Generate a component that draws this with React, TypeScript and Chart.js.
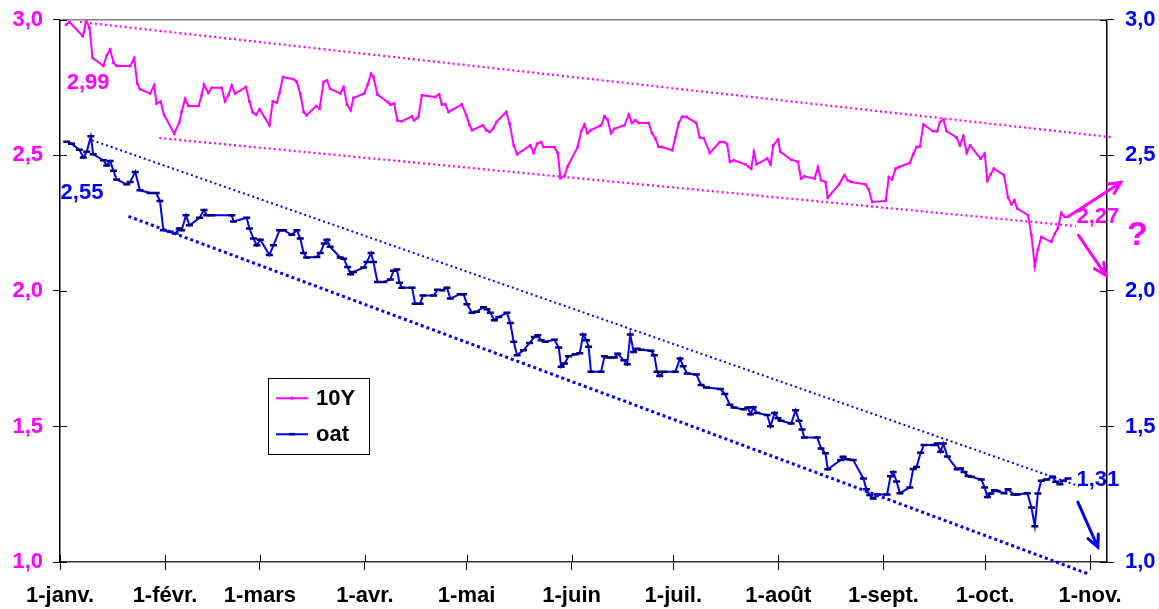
import React, { useEffect, useRef } from "react";
import { Chart, registerables } from "chart.js";

Chart.register(...registerables);

// ---- axis ticks ----
const monthDays = [0, 31, 59, 90, 120, 151, 181, 212, 243, 273, 304];
const monthLabels = ["1-janv.", "1-févr.", "1-mars", "1-avr.", "1-mai", "1-juin", "1-juil.", "1-août", "1-sept.", "1-oct.", "1-nov."];
const yTicks = [1.0, 1.5, 2.0, 2.5, 3.0];

// ---- 10Y series (day of year, yield) ----
const tenYDays = [1.8, 2.8, 6.7, 7.1, 7.7, 8.7, 9.6, 12.8, 13.8, 14.8, 15.8, 16.7, 20.7, 21.9, 22.8, 23.6, 26.6, 27.8, 28.5, 29.7, 30.7, 33.7, 35.2, 35.9, 36.9, 37.9, 40.9, 41.8, 42.5, 43.8, 44.8, 47.7, 48.7, 49.7, 50.7, 51.7, 54.9, 55.9, 56.9, 57.9, 58.9, 61.8, 62.8, 64.0, 64.8, 65.8, 68.9, 69.9, 70.9, 71.9, 72.8, 75.6, 76.6, 77.8, 78.8, 79.7, 82.7, 83.7, 84.7, 85.8, 86.6, 89.8, 90.8, 91.8, 92.5, 93.7, 96.7, 97.5, 98.6, 99.6, 100.9, 103.9, 104.5, 105.8, 106.8, 110.7, 111.9, 112.7, 113.7, 114.7, 118.6, 119.9, 120.9, 121.6, 124.8, 125.8, 126.8, 127.8, 128.8, 131.7, 132.7, 133.9, 134.9, 138.8, 139.8, 140.8, 142.0, 142.7, 145.9, 146.9, 147.7, 148.9, 149.8, 152.8, 153.8, 154.8, 155.7, 156.7, 159.7, 160.7, 161.6, 162.6, 163.6, 166.6, 167.9, 168.8, 169.8, 170.8, 173.8, 174.7, 175.7, 176.7, 177.7, 180.7, 181.6, 182.6, 183.6, 184.9, 187.8, 188.8, 190.0, 191.8, 194.7, 196.1, 196.9, 197.7, 198.9, 202.3, 203.3, 204.0, 204.8, 205.6, 208.7, 209.7, 210.5, 211.9, 212.6, 215.8, 217.8, 218.7, 219.7, 222.7, 223.7, 224.6, 225.9, 226.6, 229.9, 231.5, 232.5, 233.5, 237.7, 238.7, 239.7, 243.7, 244.6, 245.6, 246.6, 247.6, 250.8, 251.8, 252.8, 253.8, 254.8, 257.7, 258.9, 259.7, 260.7, 261.7, 264.6, 265.6, 266.6, 267.6, 268.6, 271.7, 272.9, 273.7, 274.7, 275.6, 278.6, 279.8, 280.8, 281.7, 282.5, 285.7, 286.7, 287.7, 288.6, 289.6, 292.6, 293.6, 294.5, 295.5, 296.5, 297.5];
const tenYValues = [2.982, 2.992, 2.940, 2.955, 3.000, 2.970, 2.859, 2.830, 2.869, 2.891, 2.842, 2.830, 2.830, 2.859, 2.765, 2.744, 2.728, 2.758, 2.691, 2.699, 2.650, 2.580, 2.621, 2.660, 2.709, 2.682, 2.682, 2.722, 2.761, 2.731, 2.749, 2.749, 2.699, 2.722, 2.758, 2.728, 2.752, 2.699, 2.658, 2.650, 2.670, 2.611, 2.699, 2.695, 2.731, 2.789, 2.781, 2.771, 2.728, 2.660, 2.648, 2.682, 2.672, 2.771, 2.777, 2.746, 2.728, 2.752, 2.687, 2.666, 2.712, 2.728, 2.761, 2.801, 2.789, 2.724, 2.697, 2.687, 2.691, 2.629, 2.626, 2.644, 2.629, 2.642, 2.722, 2.715, 2.725, 2.688, 2.688, 2.660, 2.688, 2.648, 2.611, 2.593, 2.611, 2.593, 2.586, 2.598, 2.623, 2.660, 2.617, 2.537, 2.504, 2.537, 2.509, 2.543, 2.549, 2.531, 2.531, 2.509, 2.416, 2.424, 2.459, 2.531, 2.589, 2.614, 2.582, 2.593, 2.611, 2.644, 2.632, 2.582, 2.598, 2.611, 2.651, 2.619, 2.629, 2.619, 2.619, 2.582, 2.563, 2.531, 2.531, 2.519, 2.566, 2.619, 2.642, 2.642, 2.619, 2.566, 2.563, 2.509, 2.549, 2.549, 2.541, 2.476, 2.482, 2.467, 2.457, 2.451, 2.513, 2.467, 2.488, 2.467, 2.537, 2.558, 2.513, 2.484, 2.476, 2.414, 2.423, 2.414, 2.457, 2.408, 2.402, 2.344, 2.393, 2.427, 2.408, 2.402, 2.393, 2.374, 2.328, 2.332, 2.420, 2.411, 2.451, 2.457, 2.472, 2.504, 2.531, 2.533, 2.614, 2.589, 2.589, 2.623, 2.632, 2.589, 2.566, 2.537, 2.570, 2.509, 2.537, 2.488, 2.507, 2.406, 2.430, 2.451, 2.427, 2.344, 2.320, 2.334, 2.304, 2.279, 2.205, 2.091, 2.153, 2.199, 2.181, 2.212, 2.230, 2.288, 2.273, 2.273];

// ---- OAT series (day of year, yield) ----
const oatDays = [2.0, 3.4, 5.7, 6.9, 7.9, 9.1, 9.8, 12.8, 13.8, 14.8, 15.8, 16.7, 19.7, 20.7, 22.2, 23.6, 26.6, 28.4, 29.5, 30.5, 32.5, 34.0, 35.2, 35.9, 37.2, 38.2, 41.2, 42.5, 43.3, 44.8, 50.7, 51.2, 55.1, 55.9, 57.1, 58.1, 59.1, 61.8, 63.0, 64.8, 66.0, 68.4, 69.9, 70.9, 71.9, 72.8, 75.8, 76.8, 78.0, 78.8, 79.7, 82.7, 83.7, 84.9, 85.8, 86.6, 89.6, 90.6, 91.8, 92.5, 93.7, 95.5, 97.5, 98.4, 99.4, 100.2, 100.9, 103.9, 104.8, 106.3, 107.1, 110.3, 111.4, 112.7, 114.2, 115.2, 118.1, 119.1, 120.1, 121.6, 122.9, 125.0, 126.0, 127.0, 128.2, 129.5, 131.9, 132.9, 133.9, 134.9, 136.8, 138.6, 140.0, 141.0, 142.0, 143.2, 145.9, 147.2, 147.9, 148.9, 150.1, 152.1, 153.4, 154.4, 155.4, 156.0, 156.7, 159.7, 160.7, 162.0, 163.6, 164.6, 166.4, 167.4, 168.3, 169.3, 170.3, 171.5, 174.4, 175.4, 176.2, 177.0, 178.2, 181.6, 183.0, 183.9, 185.1, 187.8, 189.2, 190.8, 194.9, 196.2, 197.7, 198.9, 201.8, 203.0, 203.8, 204.6, 205.7, 208.7, 209.7, 210.9, 211.9, 212.8, 215.8, 217.1, 218.1, 219.0, 219.7, 223.5, 224.6, 225.9, 226.6, 230.4, 231.1, 232.3, 234.1, 237.1, 238.0, 239.0, 240.0, 241.2, 244.1, 245.1, 245.9, 246.9, 247.9, 250.8, 251.8, 252.8, 254.0, 255.0, 257.9, 258.9, 259.9, 260.7, 261.9, 264.8, 265.8, 266.8, 268.0, 269.0, 271.9, 272.9, 273.7, 274.7, 275.8, 276.6, 278.6, 279.8, 281.5, 282.5, 285.5, 286.7, 287.7, 288.6, 289.6, 291.2, 292.9, 293.9, 295.1, 296.1, 297.5];
const oatValues = [2.550, 2.543, 2.521, 2.492, 2.513, 2.570, 2.504, 2.482, 2.463, 2.479, 2.443, 2.411, 2.393, 2.402, 2.439, 2.371, 2.361, 2.361, 2.332, 2.224, 2.218, 2.212, 2.230, 2.224, 2.279, 2.242, 2.270, 2.298, 2.279, 2.279, 2.279, 2.256, 2.270, 2.230, 2.193, 2.168, 2.189, 2.132, 2.168, 2.224, 2.224, 2.207, 2.224, 2.193, 2.140, 2.123, 2.125, 2.140, 2.175, 2.189, 2.163, 2.123, 2.119, 2.088, 2.061, 2.070, 2.086, 2.107, 2.140, 2.107, 2.033, 2.033, 2.042, 2.074, 2.079, 2.030, 2.012, 2.012, 1.953, 1.953, 1.983, 1.983, 2.004, 2.002, 2.012, 1.972, 1.988, 1.988, 1.951, 1.919, 1.923, 1.940, 1.932, 1.919, 1.892, 1.904, 1.919, 1.882, 1.812, 1.763, 1.781, 1.808, 1.830, 1.836, 1.818, 1.812, 1.820, 1.791, 1.720, 1.732, 1.759, 1.766, 1.770, 1.839, 1.818, 1.794, 1.702, 1.702, 1.759, 1.754, 1.754, 1.768, 1.744, 1.729, 1.839, 1.775, 1.787, 1.783, 1.779, 1.763, 1.702, 1.686, 1.702, 1.702, 1.751, 1.722, 1.695, 1.692, 1.653, 1.644, 1.638, 1.620, 1.580, 1.570, 1.563, 1.570, 1.545, 1.571, 1.550, 1.542, 1.501, 1.550, 1.530, 1.521, 1.511, 1.560, 1.521, 1.489, 1.459, 1.459, 1.419, 1.401, 1.342, 1.376, 1.388, 1.379, 1.376, 1.308, 1.268, 1.247, 1.234, 1.249, 1.249, 1.316, 1.332, 1.297, 1.254, 1.275, 1.343, 1.350, 1.403, 1.432, 1.432, 1.437, 1.407, 1.437, 1.389, 1.342, 1.345, 1.332, 1.317, 1.314, 1.304, 1.275, 1.240, 1.253, 1.265, 1.262, 1.254, 1.268, 1.249, 1.249, 1.254, 1.201, 1.132, 1.253, 1.300, 1.304, 1.314, 1.296, 1.287, 1.300, 1.308];

// ---- trend channels (start / end) ----
const tenYUpperDays = [5.9, 311.0];
const tenYUpperValues = [2.992, 2.566];
const tenYLowerDays = [29.3, 299.8];
const tenYLowerValues = [2.564, 2.239];
const oatUpperDays = [9.4, 300.7];
const oatUpperValues = [2.556, 1.280];
const oatLowerDays = [20.2, 303.7];
const oatLowerValues = [2.275, 0.955];

// ---- annotations (anchored in data coordinates) ----
const noteTexts = ["2,99", "2,55", "2,27", "?", "1,31"];
const noteDays = [8.3, 6.5, 306.3, 318.0, 306.3];
const noteValues = [2.766, 2.360, 2.272, 2.205, 1.302];
const noteSeries = ["10Y", "oat", "10Y", "10Y", "oat"];

const arrowFromDays = [297.7, 300.6, 300.4];
const arrowFromValues = [2.275, 2.205, 1.221];
const arrowToDays = [313.1, 308.6, 306.3];
const arrowToValues = [2.400, 2.058, 1.055];
const arrowSeries = ["10Y", "10Y", "oat"];

const legendLabels = ["10Y", "oat"];
const legendCornerDays = [61.4, 91.3];
const legendCornerValues = [1.678, 1.398];

// ---- styles ----
const MAGENTA = "#FF00FF";
const BLUE = "#0000FF";
const NAVY = "#000080";
const FONT = "'Liberation Sans', Arial, sans-serif";
const seriesColor: Record<string, string> = { "10Y": MAGENTA, oat: BLUE };

const pts = (xs: number[], ys: number[]) => xs.map((x, i) => ({ x, y: ys[i] }));
const fmt = (v: number) => v.toFixed(1).replace(".", ",");

const decorPlugin = {
  id: "decor",
  afterDatasetsDraw(chart: any) {
    const { ctx, chartArea: a, scales } = chart;
    const xs = scales.x;
    const ys = scales.y;
    ctx.save();
    // top border
    ctx.strokeStyle = "#808080";
    ctx.lineWidth = 1.5;
    ctx.beginPath();
    ctx.moveTo(a.left, a.top);
    ctx.lineTo(a.right, a.top);
    ctx.stroke();
    // inner halves of crossing tick marks
    ctx.strokeStyle = "#000";
    ctx.lineWidth = 1;
    yTicks.forEach((v) => {
      const py = Math.round(ys.getPixelForValue(v)) + 0.5;
      ctx.beginPath();
      ctx.moveTo(a.left, py);
      ctx.lineTo(a.left + 7, py);
      ctx.moveTo(a.right, py);
      ctx.lineTo(a.right - 7, py);
      ctx.stroke();
    });
    monthDays.forEach((d) => {
      const px = Math.round(xs.getPixelForValue(d)) + 0.5;
      ctx.beginPath();
      ctx.moveTo(px, a.bottom);
      ctx.lineTo(px, a.bottom - 7);
      ctx.stroke();
    });
    // annotation texts
    ctx.textBaseline = "middle";
    ctx.textAlign = "center";
    noteTexts.forEach((t, i) => {
      const size = t === "?" ? 34 : 22;
      ctx.font = `bold ${size}px ${FONT}`;
      ctx.fillStyle = seriesColor[noteSeries[i]];
      ctx.fillText(t, xs.getPixelForValue(noteDays[i]), ys.getPixelForValue(noteValues[i]));
    });
    // arrows
    ctx.lineWidth = 3;
    ctx.lineCap = "round";
    arrowFromDays.forEach((_, i) => {
      const x1 = xs.getPixelForValue(arrowFromDays[i]);
      const y1 = ys.getPixelForValue(arrowFromValues[i]);
      const x2 = xs.getPixelForValue(arrowToDays[i]);
      const y2 = ys.getPixelForValue(arrowToValues[i]);
      const ang = Math.atan2(y2 - y1, x2 - x1);
      const h = 13;
      ctx.strokeStyle = seriesColor[arrowSeries[i]];
      ctx.beginPath();
      ctx.moveTo(x1, y1);
      ctx.lineTo(x2, y2);
      ctx.moveTo(x2 - h * Math.cos(ang - 0.45), y2 - h * Math.sin(ang - 0.45));
      ctx.lineTo(x2, y2);
      ctx.lineTo(x2 - h * Math.cos(ang + 0.45), y2 - h * Math.sin(ang + 0.45));
      ctx.stroke();
    });
    ctx.lineCap = "butt";
    // legend box
    const lx1 = xs.getPixelForValue(legendCornerDays[0]);
    const ly1 = ys.getPixelForValue(legendCornerValues[0]);
    const lx2 = xs.getPixelForValue(legendCornerDays[1]);
    const ly2 = ys.getPixelForValue(legendCornerValues[1]);
    ctx.fillStyle = "#fff";
    ctx.fillRect(lx1, ly1, lx2 - lx1, ly2 - ly1);
    ctx.strokeStyle = "#000";
    ctx.lineWidth = 1;
    ctx.strokeRect(Math.round(lx1) + 0.5, Math.round(ly1) + 0.5, Math.round(lx2 - lx1), Math.round(ly2 - ly1));
    const rowH = (ly2 - ly1) / 2;
    legendLabels.forEach((lab, i) => {
      const cy = ly1 + rowH * (i + 0.5) + (i === 0 ? 1 : -1);
      ctx.strokeStyle = seriesColor[lab];
      ctx.lineWidth = 2;
      ctx.beginPath();
      ctx.moveTo(lx1 + 8, cy);
      ctx.lineTo(lx1 + 40, cy);
      ctx.stroke();
      if (lab === "oat") {
        ctx.strokeStyle = NAVY;
        ctx.lineWidth = 2.5;
        ctx.beginPath();
        ctx.moveTo(lx1 + 21, cy);
        ctx.lineTo(lx1 + 27, cy);
        ctx.stroke();
      } else {
        ctx.fillStyle = MAGENTA;
        ctx.fillRect(lx1 + 22.5, cy - 1.5, 3, 3);
      }
      ctx.fillStyle = "#000";
      ctx.font = `bold 22px ${FONT}`;
      ctx.textAlign = "left";
      ctx.textBaseline = "middle";
      ctx.fillText(lab, lx1 + 48, cy + 1);
    });
    ctx.restore();
  },
};

export default function App() {
  const ref = useRef<HTMLCanvasElement | null>(null);
  useEffect(() => {
    if (!ref.current) return;
    const tickFont = { family: FONT, size: 22, weight: "bold" as const };
    const yTickFont = { family: FONT, size: 22, weight: "bold" as const, lineHeight: 0.8 };
    const trend = (xs: number[], ys: number[], color: string, w: number, dash: number[]) => ({
      data: pts(xs, ys),
      borderColor: color,
      borderWidth: w,
      borderDash: dash,
      pointRadius: 0,
      fill: false,
      clip: false as const,
      yAxisID: "y",
    });
    const chart = new Chart(ref.current, {
      type: "line",
      data: {
        datasets: [
          trend(tenYUpperDays, tenYUpperValues, MAGENTA, 2.2, [2, 3]),
          trend(tenYLowerDays, tenYLowerValues, MAGENTA, 2.2, [2, 3]),
          trend(oatUpperDays, oatUpperValues, BLUE, 2, [2, 3]),
          trend(oatLowerDays, oatLowerValues, BLUE, 3, [3, 3]),
          {
            label: "10Y",
            data: pts(tenYDays, tenYValues),
            borderColor: MAGENTA,
            borderWidth: 2,
            pointStyle: "rect",
            pointRadius: 1.8,
            pointBackgroundColor: MAGENTA,
            pointBorderColor: MAGENTA,
            pointBorderWidth: 0,
            tension: 0,
            yAxisID: "y",
          },
          {
            label: "oat",
            data: pts(oatDays, oatValues),
            borderColor: BLUE,
            borderWidth: 2,
            pointStyle: "line",
            pointRadius: 3.5,
            pointBorderColor: NAVY,
            pointBorderWidth: 2.5,
            tension: 0,
            yAxisID: "y",
          },
        ] as any,
      },
      options: {
        animation: false,
        responsive: true,
        maintainAspectRatio: false,
        layout: { padding: { top: 19.5, left: 0, right: 0, bottom: 0 } },
        plugins: { legend: { display: false }, tooltip: { enabled: false } },
        scales: {
          x: {
            type: "linear",
            min: 0,
            max: 309,
            afterBuildTicks: (s: any) => {
              s.ticks = monthDays.map((v) => ({ value: v }));
            },
            afterFit: (s: any) => {
              s.height = 47;
            },
            ticks: {
              autoSkip: false,
              maxRotation: 0,
              minRotation: 0,
              padding: 13,
              color: "#000",
              font: tickFont,
              callback: (v: any) => monthLabels[monthDays.indexOf(Number(v))] ?? "",
            },
            grid: { drawOnChartArea: false, drawTicks: true, tickLength: 8, color: "#000" },
            border: { display: true, color: "#303030", width: 1.5 },
          },
          y: {
            position: "left",
            min: 1,
            max: 3,
            afterBuildTicks: (s: any) => {
              s.ticks = yTicks.map((v) => ({ value: v }));
            },
            afterFit: (s: any) => {
              s.width = 60;
            },
            ticks: { padding: 10, color: MAGENTA, font: yTickFont, callback: (v: any) => fmt(Number(v)) },
            grid: { drawOnChartArea: false, drawTicks: true, tickLength: 7, color: "#000" },
            border: { display: true, color: "#000", width: 1.5 },
          },
          y2: {
            position: "right",
            min: 1,
            max: 3,
            afterBuildTicks: (s: any) => {
              s.ticks = yTicks.map((v) => ({ value: v }));
            },
            afterFit: (s: any) => {
              s.width = 52;
            },
            ticks: { padding: 11, color: BLUE, font: yTickFont, callback: (v: any) => fmt(Number(v)) },
            grid: { drawOnChartArea: false, drawTicks: true, tickLength: 7, color: "#000" },
            border: { display: true, color: "#000", width: 1.5 },
          },
        },
      } as any,
      plugins: [decorPlugin],
    });
    return () => chart.destroy();
  }, []);
  return (
    <div style={{ position: "fixed", left: 0, top: 0, width: 1159, height: 609, background: "#fff" }}>
      <canvas ref={ref} />
    </div>
  );
}
